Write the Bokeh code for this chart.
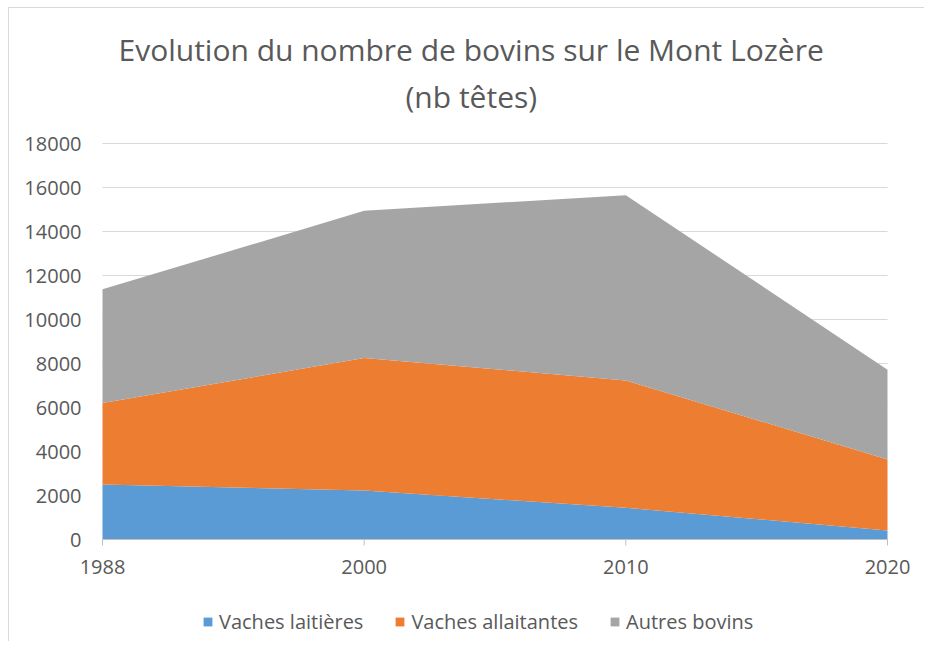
import numpy as np
from bokeh.plotting import figure
from bokeh.models import ColumnDataSource, Legend, LegendItem, Range1d, Title
from bokeh.core.properties import value
from bokeh.embed import file_html
from bokeh.resources import INLINE

years = ["1988", "2000", "2010", "2020"]
laitieres = [2500, 2230, 1440, 410]
allaitantes = [3700, 6020, 5790, 3230]
autres = [5170, 6690, 8420, 4080]
series = ["Vaches laitières", "Vaches allaitantes", "Autres bovins"]
colors = ["#5B9BD5", "#ED7D31", "#A5A5A5"]
y_ticks = list(range(0, 18001, 2000))
y_tick_labels = [str(v) for v in y_ticks]
title_line1 = "Evolution du nombre de bovins sur le Mont Lozère"
title_line2 = "(nb têtes)"

FONT = "Open Sans"
TXT = "#595959"

# layout (pixels)
FW, FH = 906, 521          # frame size
PLOT_W, PLOT_H = 785, 396  # data area inside the frame
PAD_L, PAD_R = 90, 31      # frame edge -> first/last category
PAD_T, PAD_B = 23, 102     # frame edge -> top tick / zero line

xs = list(range(len(years)))
ymax = y_ticks[-1]
xscale = PLOT_W / (len(years) - 1)
yscale = PLOT_H / ymax

src = ColumnDataSource(dict(x=xs, a=laitieres, b=allaitantes, c=autres))

p = figure(frame_width=FW, frame_height=FH, output_backend="svg", toolbar_location=None,
           x_range=Range1d(xs[0] - PAD_L / xscale, xs[-1] + PAD_R / xscale),
           y_range=Range1d(-PAD_B / yscale, ymax + PAD_T / yscale),
           min_border_left=3, min_border_right=6, min_border_top=112, min_border_bottom=0)
p.styles = {"border-top": "1px solid #D9D9D9", "border-left": "1px solid #D9D9D9",
            "margin-left": "8px", "margin-top": "7px"}
p.axis.visible = False
p.grid.visible = False
p.outline_line_color = None
p.border_fill_color = "white"
p.background_fill_color = "white"

# horizontal gridlines
p.segment(x0=xs[0], x1=xs[-1], y0=y_ticks, y1=y_ticks, line_color="#D9D9D9", line_width=1)

# stacked areas
rs = p.varea_stack(stackers=["a", "b", "c"], x="x", source=src, color=colors)

# x axis line, ticks and labels
p.segment(x0=xs[0], x1=xs[-1], y0=0, y1=0, line_color="#BFBFBF", line_width=1)
p.ray(x=xs, y=0, length=6, length_units="screen", angle=-np.pi / 2,
      line_color="#BFBFBF", line_width=1)
p.text(x=xs, y=0, text=years, y_offset=27, text_align="center", text_baseline="middle",
       text_font=value(FONT), text_font_size="20px", text_color=TXT)

# y tick labels
p.text(x=xs[0], y=y_ticks, text=y_tick_labels, x_offset=-21, text_align="right",
       text_baseline="middle", text_font=value(FONT), text_font_size="20px", text_color=TXT)

# titles
p.title = None
t2 = Title(text=title_line2, align="left", offset=393, text_font=FONT, text_font_size="30px",
           text_color=TXT, text_font_style="normal", standoff=8)
t1 = Title(text=title_line1, align="left", offset=106, text_font=FONT, text_font_size="30px",
           text_color=TXT, text_font_style="normal", standoff=0)
p.add_layout(t2, "above")
p.add_layout(t1, "above")

legend = Legend(items=[LegendItem(label=s, renderers=[r]) for s, r in zip(series, rs)],
                orientation="horizontal", location=(190, 6),
                label_text_font=FONT, label_text_font_size="20px", label_text_color=TXT,
                glyph_width=11, glyph_height=11, spacing=31, label_standoff=6,
                border_line_color=None, background_fill_alpha=0, margin=0, padding=0)
p.add_layout(legend, "center")

open("out.html", "w").write(file_html(p, INLINE))
